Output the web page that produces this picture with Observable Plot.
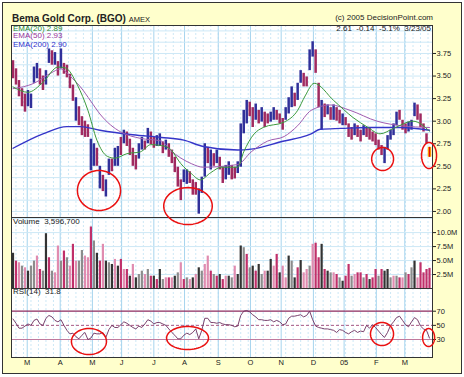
<!DOCTYPE html>
<html><head><meta charset="utf-8">
<script src="https://cdn.jsdelivr.net/npm/d3@7"></script>
<script src="https://cdn.jsdelivr.net/npm/@observablehq/plot@0.6"></script>
<style>
body{margin:0;background:#fff;}
#page{position:relative;width:464px;height:377px;overflow:hidden;font-family:"Liberation Sans",Arial,sans-serif;color:#222;}
#frame{position:absolute;left:2px;top:2px;width:460px;height:372px;box-sizing:border-box;border:1px solid #333;background:#ffffcc;}
.t{position:absolute;white-space:pre;line-height:1;z-index:5;}
.p{position:absolute;left:0;}
</style></head>
<body><div id="page"><div id="frame"></div>
<div class="t" style="left:12px;top:14px;font-size:10px;font-weight:bold;color:#222">Bema Gold Corp. (BGO) <span style="font-size:7.5px;font-weight:normal">AMEX</span></div>
<div class="t" style="right:31px;top:14.2px;font-size:8px;color:#222">(c) 2005 DecisionPoint.com</div>
<div class="t" style="right:33px;top:24.9px;font-size:8px;color:#222">2.61  -0.14  -5.1%  3/23/05</div>
<div class="t" style="left:13px;top:24.6px;font-size:8px;color:#2e8b2e">EMA(20) 2.89</div>
<div class="t" style="left:13px;top:32.3px;font-size:8px;color:#993399">EMA(50) 2.93</div>
<div class="t" style="left:13px;top:40.7px;font-size:8px;color:#3333cc">EMA(200) 2.90</div>
<div class="t" style="left:13px;top:218.2px;font-size:8px;color:#222">Volume  3,596,700</div>
<div class="t" style="left:13px;top:287.5px;font-size:8px;color:#222">RSI(14)  31.8</div>
</div>
<script>
// ---- data (bar k sits at trading day 2k+1) ----
const monthDays = [10.5, 32.5, 54, 73.5, 95, 115.5, 138, 159.5, 180, 201.5, 222, 243.5, 262.5];
const monthLabels = ["M","A","M","J","J","A","S","O","N","D","05","F","M"];
const hi = [3.67,3.58,3.45,3.36,3.30,3.34,3.30,3.60,3.64,3.58,3.50,3.56,3.80,3.78,3.76,3.66,3.80,3.64,3.62,3.52,
3.40,3.26,3.16,3.05,3.00,2.96,2.80,2.75,2.70,2.50,2.40,2.35,2.58,2.58,2.70,2.72,2.82,2.90,2.88,2.80,
2.70,2.62,2.75,2.82,2.78,2.92,2.88,2.82,2.84,2.86,2.77,2.79,2.75,2.68,2.60,2.49,2.35,2.46,2.46,2.44,
2.35,2.32,2.25,2.38,2.75,2.71,2.68,2.64,2.68,2.60,2.49,2.51,2.55,2.51,2.49,2.55,2.97,3.12,3.23,3.21,
3.15,3.19,3.12,3.15,3.10,3.08,3.10,3.15,3.12,3.08,3.03,3.15,3.26,3.38,3.31,3.42,3.56,3.53,3.49,3.79,
3.88,3.79,3.42,3.23,3.19,3.18,3.15,3.18,3.15,3.12,3.08,3.04,2.97,2.93,2.97,2.95,2.90,2.95,2.93,2.92,
2.88,2.86,2.79,2.73,2.71,2.84,2.90,2.97,3.10,3.12,3.01,2.97,2.99,3.01,3.20,3.18,3.08,2.97,2.86,2.71];
const lo = [3.47,3.40,3.27,3.16,3.10,3.16,3.14,3.42,3.47,3.40,3.34,3.40,3.64,3.62,3.62,3.50,3.58,3.52,3.48,3.36,
3.22,3.00,2.95,2.84,2.82,2.82,2.45,2.50,2.50,2.25,2.22,2.16,2.40,2.44,2.50,2.50,2.62,2.75,2.72,2.62,
2.50,2.46,2.58,2.68,2.68,2.75,2.74,2.70,2.72,2.72,2.64,2.68,2.60,2.53,2.43,2.27,2.12,2.32,2.30,2.31,
2.18,2.18,1.97,2.20,2.38,2.53,2.46,2.50,2.53,2.46,2.31,2.35,2.40,2.35,2.36,2.42,2.49,2.86,2.97,3.05,
2.93,3.01,2.97,2.99,2.93,2.97,2.99,3.01,3.01,2.97,2.90,3.01,3.08,3.15,3.16,3.23,3.42,3.38,3.38,3.56,
3.71,3.53,3.15,2.90,3.04,3.07,3.01,3.01,3.00,2.97,2.95,2.95,2.82,2.79,2.84,2.82,2.77,2.84,2.82,2.79,
2.77,2.73,2.68,2.62,2.53,2.68,2.79,2.84,2.95,3.01,2.90,2.86,2.88,2.90,3.05,3.01,2.93,2.88,2.75,2.60];
const upDay = [0,0,0,0,0,1,1,1,1,0,0,1,1,0,1,0,1,0,0,0,
0,1,0,0,0,0,1,1,0,1,0,1,1,0,1,1,0,1,0,0,
0,0,1,1,0,1,0,0,1,1,0,1,0,0,0,0,0,1,1,0,
0,0,1,1,1,0,1,0,1,0,0,1,1,0,0,1,1,1,1,0,
0,1,0,1,0,0,1,1,0,0,0,1,1,1,0,1,1,0,0,1,
1,0,0,1,0,1,0,1,0,0,1,0,0,0,1,0,0,1,0,0,
0,0,0,0,1,1,1,1,1,0,0,0,1,1,1,0,0,0,0,0];
const volumeM = [6.3,4.9,4.6,4.0,3.7,3.1,4.0,4.9,5.8,3.4,3.1,9.8,5.5,3.1,2.8,7.6,4.9,6.7,5.5,4.0,
7.9,4.9,4.9,6.8,5.8,5.5,11.0,8.5,6.3,4.9,7.9,4.9,4.6,4.3,5.2,4.0,5.2,3.4,3.4,2.2,
4.3,1.9,2.5,3.1,2.5,3.4,2.2,2.2,1.6,3.4,1.6,1.9,1.9,1.9,2.2,2.8,4.6,1.6,1.9,1.6,
1.9,2.5,3.7,3.1,4.3,5.8,3.1,2.5,2.2,2.5,1.6,2.2,2.2,1.9,4.0,2.5,7.6,7.3,6.1,3.7,
4.0,3.1,4.3,2.5,3.1,3.1,5.2,4.0,6.1,2.8,4.0,1.9,5.8,4.9,1.9,3.7,5.0,2.8,3.4,4.0,
7.9,8.1,5.5,7.9,3.4,3.1,2.8,2.8,2.5,1.9,1.3,2.2,4.3,2.2,2.5,2.8,2.8,1.9,2.5,1.6,
1.9,3.4,2.2,3.4,3.1,3.4,1.9,2.2,2.2,1.9,1.9,2.8,2.5,3.7,4.9,1.9,4.6,2.8,3.4,3.6];
const volShade = [0,2,3,1,3,0,1,1,3,2,1,0,2,1,3,3,1,2,1,3,
2,3,1,1,3,3,2,1,0,2,3,0,1,0,3,0,2,3,2,0,
3,0,1,1,3,1,2,0,2,0,1,3,2,3,0,1,3,2,1,3,
0,3,0,1,3,3,2,1,2,0,2,3,0,1,3,0,0,1,2,1,
0,2,0,1,3,0,0,3,2,0,3,3,0,1,0,2,0,3,3,1,
3,2,2,0,2,0,1,3,2,1,0,2,2,1,3,2,2,1,2,0,
2,2,1,2,0,0,1,3,1,2,3,1,2,1,0,3,2,2,2,2];
const rsi = [59,53,46,46,49,52,50,57,59,52,50,60,64,62,57,55,58,50,43,38,
39,34,31,36,40,30,32,39,38,38,40,33,44,50,47,47,51,55,53,50,
47,45,49,47,52,58,56,52,54,54,52,50,45,40,36,31,31,36,39,37,
40,45,31,43,60,60,54,54,53,54,52,51,51,50,48,49,64,70,71,69,
65,62,58,58,57,57,58,55,57,55,51,52,60,63,63,64,65,62,64,70,
58,49,47,46,45,45,44,43,40,44,43,40,38,41,43,40,42,41,50,46,
51,47,42,37,33,40,50,55,61,63,57,51,48,55,61,58,49,45,43,32];
const ema20Days = [1,11,21,31,36,44,51,57,64,69,77,86,93,100,106,113,120,126,133,140,151,155,162,168,182,191,196,202,215,228,238,246,255,268,279];
const ema20 = [3.38,3.32,3.43,3.60,3.59,3.40,3.12,2.79,2.61,2.59,2.64,2.66,2.74,2.73,2.69,2.53,2.42,2.35,2.43,2.49,2.49,2.66,2.86,2.93,2.99,3.12,3.28,3.42,3.23,3.04,2.93,2.86,2.92,3.00,2.89];
const ema50Days = [1,15,26,33,39,46,53,59,66,73,86,100,106,120,128,151,160,171,182,191,200,213,226,244,260,279];
const ema50 = [3.36,3.42,3.53,3.58,3.50,3.38,3.22,3.08,2.96,2.88,2.81,2.78,2.68,2.53,2.49,2.52,2.66,2.78,2.83,2.95,3.12,3.18,3.12,3.00,2.95,2.93];
const ema200Days = [1,21,37,46,59,81,100,115,128,151,160,182,193,200,206,220,238,260,279];
const ema200 = [2.70,2.86,2.94,2.94,2.90,2.85,2.82,2.79,2.72,2.68,2.69,2.78,2.82,2.86,2.91,2.92,2.93,2.93,2.90];
const priceTicks = [2.00,2.25,2.50,2.75,3.00,3.25,3.50,3.75];
const volTicks = [2.5,5.0,7.5,10.0];
const rsiTicks = [30,50,70];
// red circled areas: centre (day, value) and radii (days, value units)
const priceCircles = [{d:58.4,v:2.232,rx:14.4,ry:0.222},{d:117.8,v:2.06,rx:16.2,ry:0.205},{d:247.7,v:2.581,rx:7.3,ry:0.127},{d:278.7,v:2.62,rx:5,ry:0.144}];
const rsiCircles = [{d:51.7,v:27.2,rx:11.7,ry:18.4},{d:117.5,v:32.1,rx:14,ry:16.3},{d:247.3,v:37.8,rx:7.7,ry:16.3},{d:278.4,v:32.8,rx:4,ry:12.7}];

// ---- build ----
const UP = "#30309a", DOWN = "#a02a60";
const shadeColors = ["#333333","#8c8c8c","#c0306a","#e08cb0"];
const bars = hi.map((h,i)=>({d:2*i+1, hi:h, lo:lo[i], up:upDay[i]}));
const lastBar = bars.pop();
const vols = volumeM.map((v,i)=>({d:2*i+1, v, c:shadeColors[volShade[i]]}));
const rsiPts = rsi.map((v,i)=>({d:2*i+1, v}));
const line = (days, vals) => days.map((d,i)=>({d, v:vals[i]}));
const weekDays = d3.range(3, 281, 5);
const priceGrid = d3.range(2.0, 4.01, 0.125);
const volGrid = [2.5,5,7.5,10,12.5];
const labelMap = new Map(monthDays.map((d,i)=>[d, monthLabels[i]]));
function ellipse(list){const pts=[];list.forEach((e,j)=>{for(let a=0;a<=60;a++){const t=a/60*2*Math.PI;pts.push({j,d:e.d+e.rx*Math.cos(t),v:e.v+e.ry*Math.sin(t)});}});return pts;}
const GRID="#cde8f6", MGRID="#a6d4ee";
const common = {width:464, marginLeft:11, marginRight:32, x:{domain:[0,281], axis:null},
  style:{background:"transparent", overflow:"visible", fontSize:"7.5px", fontFamily:"'Liberation Sans',Arial,sans-serif", color:"#222"}};
const gridMarks = [
  Plot.frame({fill:"white", stroke:"none"}),
  Plot.ruleX(weekDays, {stroke:GRID, strokeDasharray:"2,2"}),
  Plot.ruleX(monthDays, {stroke:MGRID})
];

const price = Plot.plot({...common, height:194, marginTop:1, marginBottom:1,
  y:{domain:[1.933,4.06], axis:null, label:null},
  marks:[
    ...gridMarks,
    Plot.ruleY(priceGrid, {stroke:GRID}),
    Plot.ruleX(bars, {x:"d", y1:"lo", y2:"hi", stroke:b=>b.up?UP:DOWN, strokeWidth:2.5}),
    Plot.line(line(ema200Days, ema200), {x:"d", y:"v", stroke:"#3535c8", strokeWidth:1.4, curve:"monotone-x"}),
    Plot.line(line(ema50Days, ema50), {x:"d", y:"v", stroke:"#a05cb0", strokeWidth:1, curve:"monotone-x"}),
    Plot.line(line(ema20Days, ema20), {x:"d", y:"v", stroke:"#3c9a3c", strokeWidth:1, curve:"monotone-x"}),
    Plot.ruleX([lastBar], {x:"d", y1:"lo", y2:"hi", stroke:"#ffa500", strokeWidth:3.5}),
    Plot.ruleX([lastBar], {x:"d", y1:"lo", y2:"hi", stroke:"#e01010", strokeWidth:1.2}),
    Plot.frame({stroke:"#333"}),
    Plot.axisY(priceTicks, {anchor:"right", tickSize:3, tickPadding:1, tickFormat:d3.format(".2f"), label:null}),
    Plot.line(ellipse(priceCircles), {x:"d", y:"v", z:"j", stroke:"#ea1010", strokeWidth:1.5})
  ]});

const volume = Plot.plot({...common, height:73, marginTop:1, marginBottom:1,
  y:{domain:[0,12.7], axis:null, label:null},
  marks:[
    ...gridMarks,
    Plot.ruleY(volGrid, {stroke:GRID}),
    Plot.ruleX(vols, {x:"d", y1:0, y2:"v", stroke:"c", strokeWidth:2.2}),
    Plot.frame({stroke:"#333"}),
    Plot.axisY(volTicks, {anchor:"right", tickSize:3, tickPadding:1, tickFormat:d=>d.toFixed(1)+"M", label:null})
  ]});

const rsiPlot = Plot.plot({...common, height:88, marginTop:1, marginBottom:18,
  y:{domain:[4.6,102.1], axis:null, label:null},
  marks:[
    ...gridMarks,
    Plot.ruleY([70], {stroke:"#8b2a5e", strokeWidth:1.2}),
    Plot.ruleY([50], {stroke:"#a85a86", strokeDasharray:"3,2"}),
    Plot.ruleY([30], {stroke:"#c07a9e", strokeWidth:1.2}),
    Plot.line(rsiPts, {x:"d", y:"v", stroke:"#6a2e5e", strokeWidth:0.9}),
    Plot.frame({stroke:"#333"}),
    Plot.axisY(rsiTicks, {anchor:"right", tickSize:3, tickPadding:1, label:null}),
    Plot.axisX(monthDays, {anchor:"bottom", tickSize:0, tickPadding:2, tickFormat:d=>labelMap.get(d), label:null}),
    Plot.line(ellipse(rsiCircles), {x:"d", y:"v", z:"j", stroke:"#ea1010", strokeWidth:1.5})
  ]});

const page = document.getElementById("page");
[[volume,216,1],[rsiPlot,287,2],[price,24,3]].forEach(([svg,top,z])=>{
  svg.classList.add("p"); svg.style.position="absolute"; svg.style.top=top+"px"; svg.style.left="0px"; svg.style.zIndex=z;
  page.appendChild(svg);
});
</script></body></html>
